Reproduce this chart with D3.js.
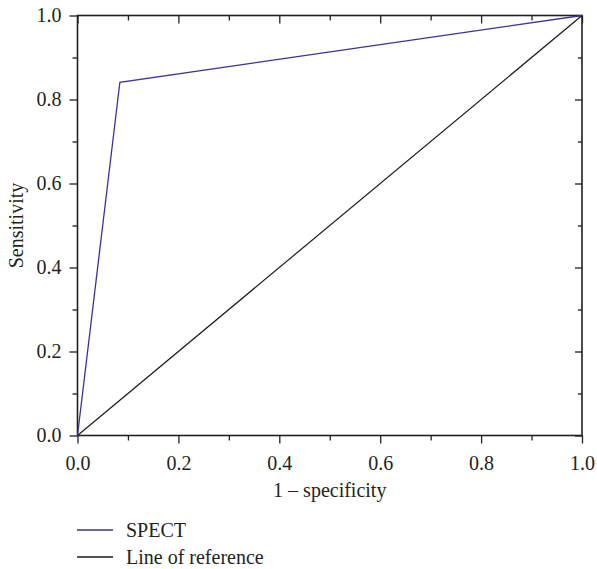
<!DOCTYPE html>
<html>
<head>
<meta charset="utf-8">
<script src="https://cdn.jsdelivr.net/npm/d3@7"></script>
<style>
  html, body { margin: 0; padding: 0; background: #fff; }
  svg { display: block; }
  text { font-family: "Liberation Serif", "Times New Roman", serif; fill: #231f20; }
</style>
</head>
<body>
<svg id="chart" width="597" height="569"></svg>
<script>
// ROC curve for SPECT against the chance diagonal
const spectFpr = [0, 0.084, 1];
const spectTpr = [0, 0.841, 1];
const referenceFpr = [0, 1];
const referenceTpr = [0, 1];

const majorTicks = [0, 0.2, 0.4, 0.6, 0.8, 1.0];
const minorTicks = [0.1, 0.3, 0.5, 0.7, 0.9];
const tickLabels = ["0.0", "0.2", "0.4", "0.6", "0.8", "1.0"];

const seriesNames = ["SPECT", "Line of reference"];
const seriesColors = ["#3a3199", "#1a1a1a"];

const W = 597, H = 569;
const margin = { left: 77.5, top: 15.5, right: 597 - 582, bottom: 569 - 435.5 };
const innerW = W - margin.left - margin.right;
const innerH = H - margin.top - margin.bottom;

const svg = d3.select("#chart");
const g = svg.append("g").attr("transform", `translate(${margin.left},${margin.top})`);

const x = d3.scaleLinear().domain([0, 1]).range([0, innerW]);
const y = d3.scaleLinear().domain([0, 1]).range([innerH, 0]);

const axisColor = "#231f20";
const fontSize = 20;

function styleAxis(sel) {
  sel.select(".domain").remove();
  sel.selectAll(".tick line").attr("stroke", axisColor).attr("stroke-width", 1.3);
  sel.selectAll(".tick text").style("font-size", fontSize + "px").attr("fill", axisColor);
}

const fmt = d => tickLabels[majorTicks.indexOf(d)];

// bottom axis: outward ticks
g.append("g").attr("transform", `translate(0,${innerH})`)
  .call(d3.axisBottom(x).tickValues(majorTicks).tickFormat(fmt).tickSize(8).tickPadding(12))
  .call(styleAxis);
g.append("g").attr("transform", `translate(0,${innerH})`)
  .call(d3.axisBottom(x).tickValues(minorTicks).tickFormat("").tickSize(5))
  .call(styleAxis);

// left axis: outward ticks
g.append("g")
  .call(d3.axisLeft(y).tickValues(majorTicks).tickFormat(fmt).tickSize(8).tickPadding(8))
  .call(styleAxis);
g.append("g")
  .call(d3.axisLeft(y).tickValues(minorTicks).tickFormat("").tickSize(5))
  .call(styleAxis);

// top and right mirror ticks pointing inward
g.append("g")
  .call(d3.axisTop(x).tickValues(majorTicks).tickFormat("").tickSize(-8))
  .call(styleAxis);
g.append("g")
  .call(d3.axisTop(x).tickValues(minorTicks).tickFormat("").tickSize(-5))
  .call(styleAxis);
g.append("g").attr("transform", `translate(${innerW},0)`)
  .call(d3.axisRight(y).tickValues(majorTicks).tickFormat("").tickSize(-7))
  .call(styleAxis);
g.append("g").attr("transform", `translate(${innerW},0)`)
  .call(d3.axisRight(y).tickValues(minorTicks).tickFormat("").tickSize(-4))
  .call(styleAxis);

// frame
g.append("rect")
  .attr("x", 0).attr("y", 0).attr("width", innerW).attr("height", innerH)
  .attr("fill", "none").attr("stroke", axisColor).attr("stroke-width", 1.6);

// series lines
const line = d3.line().x(d => x(d[0])).y(d => y(d[1]));
g.append("path")
  .datum(referenceFpr.map((v, i) => [v, referenceTpr[i]]))
  .attr("d", line).attr("fill", "none")
  .attr("stroke", seriesColors[1]).attr("stroke-width", 1.2);
g.append("path")
  .datum(spectFpr.map((v, i) => [v, spectTpr[i]]))
  .attr("d", line).attr("fill", "none")
  .attr("stroke", seriesColors[0]).attr("stroke-width", 1.3);

// axis titles
svg.append("text")
  .attr("x", margin.left + innerW / 2).attr("y", 497)
  .attr("text-anchor", "middle").style("font-size", fontSize + "px")
  .text("1 \u2013 specificity");
svg.append("text")
  .attr("transform", `translate(23,${margin.top + innerH / 2}) rotate(-90)`)
  .attr("text-anchor", "middle").style("font-size", fontSize + "px")
  .text("Sensitivity");

// legend
const legend = svg.append("g");
seriesNames.forEach((name, i) => {
  const ly = 530 + i * 27;
  legend.append("line")
    .attr("x1", 77).attr("x2", 113).attr("y1", ly).attr("y2", ly)
    .attr("stroke", seriesColors[i]).attr("stroke-width", 1.3);
  legend.append("text")
    .attr("x", 126).attr("y", ly + 6.5)
    .style("font-size", fontSize + "px")
    .text(name);
});
</script>
</body>
</html>
